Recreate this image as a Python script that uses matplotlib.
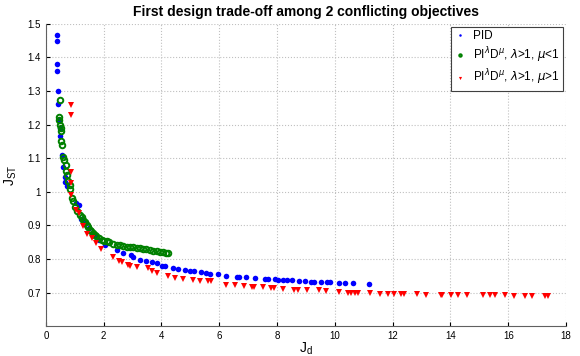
import matplotlib.pyplot as plt

plt.rcParams['font.family'] = ['Liberation Sans', 'DejaVu Sans']
plt.rcParams['mathtext.fontset'] = 'dejavusans'

# PID
pid_x = [0.39, 0.39, 0.40, 0.40, 0.41, 0.42, 0.46, 0.48, 0.49, 0.56, 0.60, 0.65, 0.66, 0.72,
         1.04, 1.14, 1.23, 1.35, 1.50, 1.70, 1.85, 2.05, 2.45, 2.67, 2.96, 3.02, 3.25, 3.48,
         3.66, 3.83, 4.02, 4.14, 4.41, 4.58, 4.83, 4.98, 5.13, 5.36, 5.53, 5.69, 5.94, 6.25,
         6.62, 6.68, 6.94, 7.23, 7.60, 7.67, 7.93, 8.02, 8.21, 8.36, 8.52, 8.77, 8.98, 9.19,
         9.27, 9.51, 9.73, 9.83, 10.13, 10.36, 10.62, 11.19]
pid_y = [1.467, 1.450, 1.380, 1.360, 1.300, 1.262, 1.213, 1.190, 1.165, 1.110, 1.075, 1.045,
         1.028, 1.018, 0.966, 0.960, 0.920, 0.909, 0.892, 0.870, 0.855, 0.842, 0.827, 0.817,
         0.812, 0.806, 0.798, 0.793, 0.790, 0.787, 0.780, 0.780, 0.773, 0.770, 0.766, 0.765,
         0.764, 0.760, 0.757, 0.755, 0.754, 0.749, 0.747, 0.745, 0.745, 0.744, 0.741, 0.741,
         0.739, 0.738, 0.737, 0.737, 0.736, 0.735, 0.733, 0.732, 0.732, 0.731, 0.730, 0.730,
         0.728, 0.728, 0.727, 0.725]

# PI^lambda D^mu, lambda>1, mu<1
mu1_x = [0.48, 0.46, 0.47, 0.50, 0.51, 0.52, 0.54, 0.55, 0.58, 0.63, 0.70, 0.70, 0.75, 0.78,
         0.82, 0.85, 0.89, 0.93, 1.00, 1.09, 1.18, 1.24, 1.29, 1.35, 1.41, 1.47, 1.52, 1.58,
         1.64, 1.70, 1.75, 1.84, 1.93, 2.01, 2.10, 2.20, 2.33, 2.45, 2.57, 2.68, 2.80, 2.91,
         3.03, 3.14, 3.25, 3.37, 3.48, 3.60, 3.72, 3.83, 3.95, 4.06, 4.15, 4.23]
mu1_y = [1.274, 1.224, 1.215, 1.200, 1.190, 1.180, 1.152, 1.140, 1.105, 1.095, 1.080, 1.062,
         1.050, 1.033, 1.020, 1.008, 0.980, 0.972, 0.956, 0.944, 0.932, 0.924, 0.917, 0.910,
         0.902, 0.894, 0.887, 0.882, 0.877, 0.872, 0.867, 0.862, 0.857, 0.854, 0.852, 0.849,
         0.845, 0.842, 0.840, 0.839, 0.837, 0.836, 0.835, 0.833, 0.832, 0.831, 0.829, 0.827,
         0.825, 0.823, 0.822, 0.821, 0.819, 0.817]

# PI^lambda D^mu, lambda>1, mu>1
mu2_x = [0.88, 0.88, 0.88, 0.88, 0.88, 1.03, 1.14, 1.29, 1.43, 1.61, 1.75, 1.90, 2.33, 2.53,
         2.64, 2.85, 2.90, 3.14, 3.52, 3.66, 3.83, 4.23, 4.46, 4.75, 5.10, 5.35, 5.62, 5.70,
         6.25, 6.54, 6.85, 7.14, 7.20, 7.52, 7.80, 7.88, 8.22, 8.60, 8.73, 9.02, 9.46, 9.70,
         10.14, 10.44, 10.55, 10.71, 10.80, 11.20, 11.57, 11.85, 12.05, 12.30, 12.40, 12.85,
         13.17, 13.66, 13.72, 14.02, 14.26, 14.58, 15.11, 15.37, 15.54, 15.88, 16.19, 16.57,
         16.82, 17.26, 17.38]
mu2_y = [1.258, 1.230, 1.058, 1.026, 0.991, 0.946, 0.937, 0.899, 0.875, 0.862, 0.847, 0.829,
         0.805, 0.795, 0.790, 0.783, 0.778, 0.776, 0.773, 0.763, 0.758, 0.748, 0.743, 0.740,
         0.737, 0.735, 0.733, 0.733, 0.723, 0.723, 0.720, 0.716, 0.716, 0.715, 0.713, 0.713,
         0.711, 0.708, 0.706, 0.706, 0.706, 0.704, 0.702, 0.700, 0.700, 0.699, 0.699, 0.698,
         0.697, 0.696, 0.696, 0.695, 0.695, 0.695, 0.694, 0.694, 0.694, 0.694, 0.693, 0.693,
         0.692, 0.692, 0.692, 0.692, 0.691, 0.691, 0.691, 0.691, 0.691]

fig = plt.figure(figsize=(5.8, 3.56), dpi=100)
ax = fig.add_axes([0.079, 0.084, 0.897, 0.849])

ax.plot(pid_x, pid_y, 'o', color='#0000ff', markersize=4.0, markeredgewidth=0,
        label='PID')
ax.plot(mu1_x, mu1_y, 'o', color='#008000', markerfacecolor='none', markersize=4.0,
        markeredgewidth=1.4, label='PI$^{\\lambda}$D$^{\\mu}$, $\\lambda$>1, $\\mu$<1')
ax.plot(mu2_x, mu2_y, 'v', color='#ff0000', markersize=5.0, markeredgewidth=0,
        label='PI$^{\\lambda}$D$^{\\mu}$, $\\lambda$>1, $\\mu$>1')

ax.set_xlim(0, 18)
ax.set_ylim(0.6, 1.5)
ax.set_xticks(range(0, 19, 2))
ax.set_yticks([0.7, 0.8, 0.9, 1.0, 1.1, 1.2, 1.3, 1.4, 1.5])
ax.set_yticklabels(['0.7', '0.8', '0.9', '1', '1.1', '1.2', '1.3', '1.4', '1.5'])
ax.tick_params(direction='in', labelsize=7, length=3)
ax.grid(True, linestyle=':', color='#c0c0c0', linewidth=0.8)
ax.spines['top'].set_visible(False)
ax.spines['right'].set_visible(False)
for s in ['left', 'bottom']:
    ax.spines[s].set_color('#606060')

ax.set_title('First design trade-off among 2 conflicting objectives', fontsize=10,
             fontweight='bold', pad=6)
ax.set_xlabel('J$_\\mathregular{d}$', fontsize=10, labelpad=0)
ax.set_ylabel('J$_\\mathregular{ST}$', fontsize=10, labelpad=6)

leg = ax.legend(loc='upper right', fontsize=8.5, markerscale=0.45, handlelength=1.0,
                borderaxespad=0.25, fancybox=False, framealpha=1, labelspacing=0.25,
                handletextpad=0.6, borderpad=0.3)
leg.get_frame().set_edgecolor('#404040')
leg.get_frame().set_linewidth(0.8)

plt.savefig('out.png', dpi=100)
